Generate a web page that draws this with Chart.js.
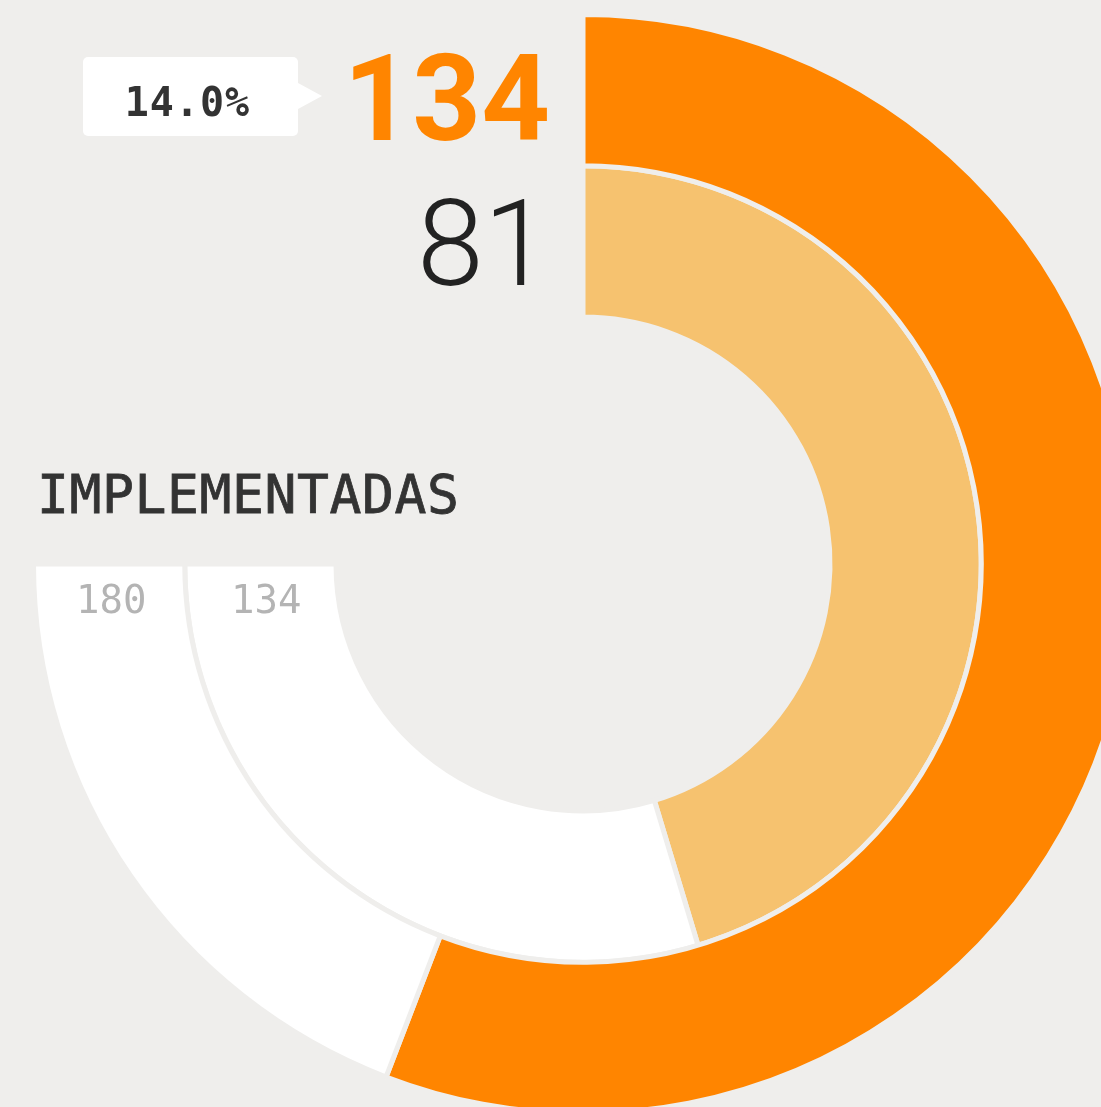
<!DOCTYPE html>
<html>
<head>
<meta charset="utf-8">
<script src="https://cdn.jsdelivr.net/npm/chart.js@4.4.1/dist/chart.umd.min.js"></script>
<style>
  html, body {
    margin: 0;
    padding: 0;
    width: 1101px;
    height: 1107px;
    overflow: hidden;
    background: #efeeec;
  }
  body { position: relative; }

  #chart {
    position: absolute;
    left: 31px;
    top: 12px;
  }

  .big {
    position: absolute;
    font-family: "Roboto", sans-serif;
    font-size: 120px;
    line-height: 1;
    text-align: right;
    width: 300px;
    right: 551px;
    white-space: nowrap;
  }
  #bigValue { top: 39px;  color: #ff8500; font-weight: 700; }
  #subValue { top: 184px; color: #222;    font-weight: 300; }

  .badge {
    position: absolute;
    left: 83px;
    top: 57px;
    width: 215px;
    height: 79px;
    background: #fff;
    border-radius: 5px;
  }
  .badge:after {
    content: "";
    position: absolute;
    left: 215px;
    top: 26px;
    border-top: 13px solid transparent;
    border-bottom: 13px solid transparent;
    border-left: 24px solid #fff;
  }
  #badgeText {
    position: absolute;
    left: 0;
    top: 25px;
    width: 209px;
    text-align: center;
    font-family: "DejaVu Sans Mono", monospace;
    font-weight: 700;
    font-size: 40px;
    letter-spacing: 1px;
    line-height: 1;
    color: #333;
  }

  #title {
    position: absolute;
    left: 37px;
    top: 468px;
    font-family: "DejaVu Sans Mono", monospace;
    font-size: 53px;
    letter-spacing: 0.6px;
    -webkit-text-stroke: 0.8px #333;
    line-height: 1;
    color: #333;
    white-space: nowrap;
  }

  .ringLabel {
    position: absolute;
    top: 580px;
    font-family: "DejaVu Sans Mono", monospace;
    font-size: 39px;
    line-height: 1;
    color: #b4b4b4;
  }
</style>
</head>
<body>

<canvas id="chart" width="1104" height="1104"></canvas>

<div class="badge"><div id="badgeText"></div></div>
<div id="bigValue" class="big"></div>
<div id="subValue" class="big"></div>
<div id="title"></div>
<div id="outerLabel" class="ringLabel" style="left:76px"></div>
<div id="innerLabel" class="ringLabel" style="left:231px"></div>

<script>
// Data
var segments     = ["Implementadas", "Restantes"];
var outerValues  = [134, 46];   // of 180
var innerValues  = [81, 53];    // of 134
var outerColors  = ["#ff8500", "#ffffff"];
var innerColors  = ["#f6c26f", "#ffffff"];

// Texts
var titleText    = "IMPLEMENTADAS";
var badgeText    = "14.0%";
var bigValueText = "134";
var subValueText = "81";
var outerLabel   = "180";
var innerLabel   = "134";

var BG = "#efeeec";


// ============================================================
//  TEXTS
// ============================================================
document.getElementById("title").textContent      = titleText;
document.getElementById("badgeText").textContent  = badgeText;
document.getElementById("bigValue").textContent   = bigValueText;
document.getElementById("subValue").textContent   = subValueText;
document.getElementById("outerLabel").textContent = outerLabel;
document.getElementById("innerLabel").textContent = innerLabel;


// ============================================================
//  CHART
// ============================================================
var ctx = document.getElementById("chart").getContext("2d");

var chart = new Chart(ctx, {
  type: "doughnut",
  data: {
    labels: segments,
    datasets: [
      {
        data: outerValues,
        backgroundColor: outerColors,
        borderColor: BG,
        borderWidth: 5,
        hoverBorderWidth: 5,
        hoverOffset: 0
      },
      {
        data: innerValues,
        backgroundColor: innerColors,
        borderColor: BG,
        borderWidth: 5,
        hoverBorderWidth: 5,
        hoverOffset: 0
      }
    ]
  },
  options: {
    responsive: false,
    animation: false,
    events: [],
    rotation: 0,
    circumference: 270,
    cutout: 247,
    layout: { padding: 0 },
    plugins: {
      legend: { display: false },
      tooltip: { enabled: false },
      title: { display: false }
    }
  }
});
</script>
</body>
</html>
